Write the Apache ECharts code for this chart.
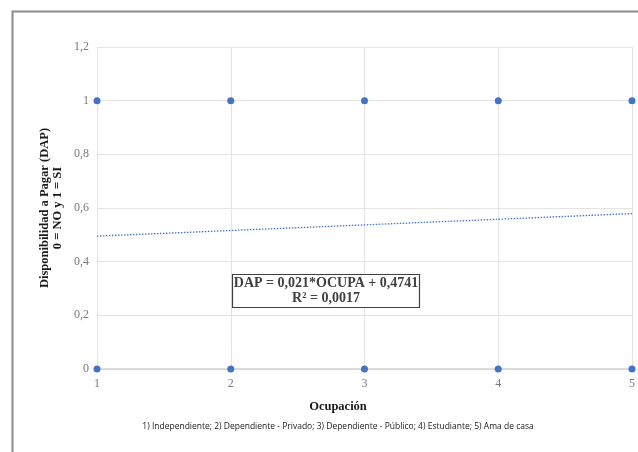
<!DOCTYPE html>
<html>
<head>
<meta charset="utf-8">
<script src="https://cdn.jsdelivr.net/npm/echarts@6/dist/echarts.min.js"></script>
<style>html,body{margin:0;padding:0;background:#fff}#c{width:638px;height:452px}</style>
</head>
<body>
<div id="c"></div>
<script>
const occupations = [1, 2, 3, 4, 5];
const dapYes = [1, 1, 1, 1, 1];
const dapNo = [0, 0, 0, 0, 0];
const trendX = [1, 5];
const trendY = [0.4951, 0.5791];
const yTicks = [0, 0.2, 0.4, 0.6, 0.8, 1, 1.2];
const equationLines = ['DAP = 0,021*OCUPA + 0,4741', 'R² = 0,0017'];
const yTitle = 'Disponibilidad a Pagar (DAP)\n0 = NO y 1 = SI';
const xTitle = 'Ocupación';
const note = '1) Independiente; 2) Dependiente - Privado; 3) Dependiente - Público; 4) Estudiante; 5) Ama de casa';

const pts = [];
occupations.forEach((o, i) => { pts.push([o, dapYes[i]]); pts.push([o, dapNo[i]]); });
const trend = trendX.map((x, i) => [x, trendY[i]]);

const chart = echarts.init(document.getElementById('c'));
const serif = '"Liberation Serif", "Times New Roman", serif';
const fmt = v => String(Math.round(v * 10) / 10).replace('.', ',');
chart.setOption({
  animation: false,
  grid: { left: 97, right: 2, top: 47, bottom: 83 },
  xAxis: {
    type: 'value', min: 1, max: 5, interval: 1,
    axisLine: { show: false },
    axisTick: { show: false },
    splitLine: { show: true, lineStyle: { color: '#e3e3e3', width: 1 } },
    axisLabel: { color: '#7a7a7a', fontFamily: serif, fontSize: 12, margin: 9, formatter: v => String(v) }
  },
  yAxis: {
    type: 'value', min: 0, max: 1.2, interval: 0.2,
    axisLine: { show: false },
    axisTick: { show: false },
    splitLine: { show: true, lineStyle: { color: '#e3e3e3', width: 1 } },
    axisLabel: { color: '#7a7a7a', fontFamily: serif, fontSize: 12, margin: 8, formatter: fmt }
  },
  series: [
    {
      type: 'line', data: [[1, 0], [5, 0]], symbol: 'none', silent: true,
      lineStyle: { color: '#d0d0d0', width: 1.5 }, z: 1
    },
    {
      type: 'line', data: trend, symbol: 'none',
      lineStyle: { color: '#4472C4', width: 1.3, type: [1.5, 1.5] }, z: 2
    },
    {
      type: 'scatter', data: pts, symbol: 'circle', symbolSize: 7,
      itemStyle: { color: '#4472C4', opacity: 1 }, z: 3
    }
  ],
  graphic: [
    { type: 'rect', shape: { x: 12.5, y: 11.5, width: 700, height: 500 }, style: { fill: null, stroke: '#8a8a8a', lineWidth: 2 }, silent: true },
    { type: 'text', x: 51, y: 208, rotation: Math.PI / 2, style: { text: yTitle, fontFamily: serif, fontWeight: 'bold', fontSize: 12.5, fill: '#1a1a1a', align: 'center', verticalAlign: 'middle', lineHeight: 13 } },
    { type: 'text', x: 338, y: 407, style: { text: xTitle, fontFamily: serif, fontWeight: 'bold', fontSize: 12.5, fill: '#1a1a1a', align: 'center', verticalAlign: 'middle' } },
    { type: 'text', x: 338, y: 427, style: { text: note, fontFamily: '"Open Sans", "Liberation Sans", sans-serif', fontSize: 8.5, fill: '#1a1a1a', align: 'center', verticalAlign: 'middle' } },
    { type: 'rect', shape: { x: 232.5, y: 274.5, width: 187, height: 33 }, style: { fill: '#fff', stroke: '#404040', lineWidth: 1.2 }, z: 10 },
    { type: 'text', x: 326, y: 291, z: 11, style: { text: equationLines.join('\n'), fontFamily: serif, fontWeight: 'bold', fontSize: 14, fill: '#404040', align: 'center', verticalAlign: 'middle', lineHeight: 15 } }
  ]
});
</script>
</body>
</html>
